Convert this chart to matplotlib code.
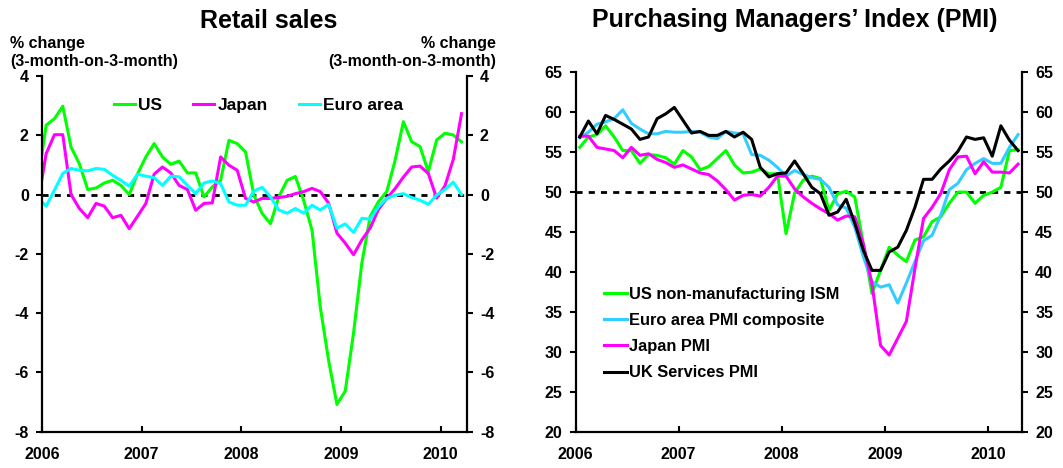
import matplotlib
matplotlib.use('Agg')
import matplotlib.pyplot as plt

plt.rcParams['font.family'] = ['Liberation Sans', 'DejaVu Sans']
plt.rcParams['font.weight'] = 'bold'
plt.rcParams['axes.unicode_minus'] = False

# retail sales, % change 3m/3m, monthly from Dec 2005 to Mar 2010
retail_us = [0.43,
             2.34, 2.56, 2.98, 1.6, 1.04, 0.17, 0.22, 0.39, 0.48, 0.31, 0.0, 0.7,
             1.27, 1.72, 1.27, 1.02, 1.13, 0.73, 0.73, -0.08, 0.26, 0.48, 1.83, 1.72,
             1.44, -0.02, -0.64, -0.98, -0.08, 0.48, 0.61, -0.2, -1.2, -3.8, -5.6, -7.08,
             -6.63, -4.67, -2.31, -0.74, -0.24, 0.1, 1.15, 2.46, 1.78, 1.62, 0.77, 1.84,
             2.07, 2.01, 1.78]
retail_japan = [-0.3,
                1.38, 2.02, 2.02, 0.0, -0.47, -0.78, -0.3, -0.39, -0.78, -0.7, -1.15, -0.73,
                -0.3, 0.69, 0.93, 0.73, 0.31, 0.17, -0.53, -0.3, -0.28, 1.27, 0.99, 0.82,
                -0.13, -0.25, -0.13, -0.13, -0.1, -0.06, 0.03, 0.1, 0.21, 0.1, -0.29, -1.3,
                -1.64, -2.03, -1.53, -1.13, -0.5, -0.13, 0.2, 0.59, 0.93, 0.96, 0.71, -0.12,
                0.29, 1.18, 2.73]
retail_euro = [-0.11,
               -0.39, 0.15, 0.71, 0.88, 0.82, 0.8, 0.88, 0.85, 0.65, 0.48, 0.28, 0.69,
               0.62, 0.57, 0.31, 0.62, 0.6, 0.31, 0.03, 0.39, 0.46, 0.37, -0.25, -0.36,
               -0.36, 0.12, 0.24, -0.08, -0.52, -0.63, -0.47, -0.63, -0.36, -0.52, -0.33, -1.13,
               -0.99, -1.28, -0.8, -0.83, -0.41, -0.13, -0.02, 0.03, -0.1, -0.19, -0.33, -0.02,
               0.17, 0.42, 0.0]

# PMI, monthly from Jan 2006 to Apr 2010
pmi_us = [55.6, 56.9, 57.2, 58.3, 56.9, 55.2, 55.2, 53.6, 54.7, 54.6, 54.3, 53.5,
          55.2, 54.4, 52.8, 53.2, 54.2, 55.2, 53.4, 52.4, 52.5, 52.9, 52.3, 52.3,
          44.8, 49.9, 51.5, 52.0, 51.7, 47.7, 49.8, 50.1, 49.4, 43.5, 37.3, 40.2,
          43.1, 42.1, 41.3, 44.0, 44.4, 46.3, 46.9, 48.6, 50.0, 50.0, 48.6, 49.6,
          50.0, 50.6, 55.2, 55.3]
pmi_euro = [56.8, 57.5, 58.5, 58.8, 59.2, 60.3, 58.6, 57.9, 57.3, 57.3, 57.6, 57.5,
            57.5, 57.6, 57.5, 56.9, 56.7, 57.6, 57.4, 57.3, 54.7, 54.6, 54.0, 53.1,
            52.0, 52.7, 52.2, 51.8, 51.6, 50.6, 48.4, 48.0, 45.6, 41.9, 38.8, 38.1,
            38.4, 36.1, 38.6, 41.3, 43.9, 44.6, 47.1, 50.3, 51.1, 52.8, 53.6, 54.2,
            53.6, 53.6, 55.6, 57.2]
pmi_japan = [57.0, 57.0, 55.6, 55.4, 55.2, 54.3, 55.6, 54.6, 54.8, 54.1, 53.7, 53.1,
             53.4, 52.9, 52.4, 52.2, 51.4, 50.3, 49.0, 49.6, 49.7, 49.5, 50.6, 52.0,
             52.0, 50.4, 49.4, 48.6, 47.9, 47.3, 46.5, 47.0, 46.9, 43.5, 38.5, 30.8,
             29.6, 31.7, 33.8, 40.4, 46.7, 48.1, 49.8, 52.8, 54.4, 54.5, 52.3, 53.8,
             52.5, 52.5, 52.4, 53.5]
pmi_uk = [56.9, 58.9, 57.3, 59.6, 59.1, 58.5, 57.9, 56.6, 56.9, 59.2, 59.8, 60.6,
          59.0, 57.4, 57.6, 57.1, 57.1, 57.6, 56.9, 57.5, 56.6, 53.1, 51.9, 52.3,
          52.4, 53.9, 52.3, 50.6, 49.8, 47.1, 47.5, 49.1, 46.1, 42.7, 40.2, 40.2,
          42.5, 43.1, 45.2, 48.1, 51.6, 51.6, 52.9, 53.9, 55.1, 56.9, 56.6, 56.8,
          54.5, 58.3, 56.5, 55.2]

years = [2006, 2007, 2008, 2009, 2010]


def months(year, month, n):
    # mid-month positions as fractional years
    return [year + (month - 0.5 + k) / 12 for k in range(n)]


def style_axes(ax):
    ax.spines['top'].set_visible(False)
    for side in ['left', 'right', 'bottom']:
        ax.spines[side].set_linewidth(1.6)
    ax.tick_params(axis='y', direction='out', length=4, width=1.5, pad=5.5,
                   left=True, right=True, labelleft=True, labelright=True, labelsize=11.5)
    ax.tick_params(axis='x', direction='in', length=4, width=1.5, pad=11,
                   bottom=True, labelsize=11.5)
    ax.set_xticks(years)
    ax.set_xticklabels([str(y) for y in years])


W, H = 1063, 468
fig = plt.figure(figsize=(W / 100, H / 100), dpi=100)

# retail sales
ax1 = fig.add_axes([42 / W, 1 - 431.7 / H, (466.7 - 42) / W, (431.7 - 76) / H])
x1 = months(2005, 12, len(retail_us))
ax1.axhline(0, color='black', lw=2, dashes=(2.2, 2.2))
ax1.plot(x1, retail_us, color='#00FF00', lw=2.2, label='US')
ax1.plot(x1, retail_japan, color='#FF00FF', lw=2.2, label='Japan')
ax1.plot(x1, retail_euro, color='#00FFFF', lw=2.2, label='Euro area')
ax1.set_xlim(2006, 2010.26)
ax1.set_ylim(-8, 4)
ax1.set_yticks(range(-8, 5, 2))
style_axes(ax1)
ax1.legend(ncol=3, loc='center', bbox_to_anchor=(0.51, 0.918), frameon=False,
           fontsize=12.5, handlelength=1.2, handletextpad=0.2, columnspacing=1.8,
           borderpad=0, borderaxespad=0)

# PMI
ax2 = fig.add_axes([575.5 / W, 1 - 431.7 / H, (1022 - 575.5) / W, (431.7 - 72.3) / H])
x2 = months(2006, 1, len(pmi_us))
ax2.axhline(50, color='black', lw=2, dashes=(2.2, 2.2))
ax2.plot(x2, pmi_us, color='#00FF00', lw=2.2, label='US non-manufacturing ISM')
ax2.plot(x2, pmi_euro, color='#33CCFF', lw=2.2, label='Euro area PMI composite')
ax2.plot(x2, pmi_japan, color='#FF00FF', lw=2.2, label='Japan PMI')
ax2.plot(x2, pmi_uk, color='black', lw=2.2, label='UK Services PMI')
ax2.set_xlim(2006, 2010.33)
ax2.set_ylim(20, 65)
ax2.set_yticks(range(20, 66, 5))
style_axes(ax2)
ax2.legend(loc='center', bbox_to_anchor=(0.327, 0.273), frameon=False,
           fontsize=11.8, handlelength=1.4, handletextpad=0.15, labelspacing=0.68,
           borderpad=0, borderaxespad=0)

fig.text(269 / W, 1 - 28 / H, 'Retail sales', ha='center', va='baseline', fontsize=18)
fig.text(795 / W, 1 - 27 / H, 'Purchasing Managers\u2019 Index (PMI)',
         ha='center', va='baseline', fontsize=18)
fig.text(10 / W, 1 - 52.5 / H, '% change\n(3-month-on-3-month)', ha='left', va='center',
         fontsize=11.5, multialignment='left')
fig.text(496 / W, 1 - 52.5 / H, '% change\n(3-month-on-3-month)', ha='right', va='center',
         fontsize=11.5, multialignment='right')

fig.savefig('out.png', dpi=100)
